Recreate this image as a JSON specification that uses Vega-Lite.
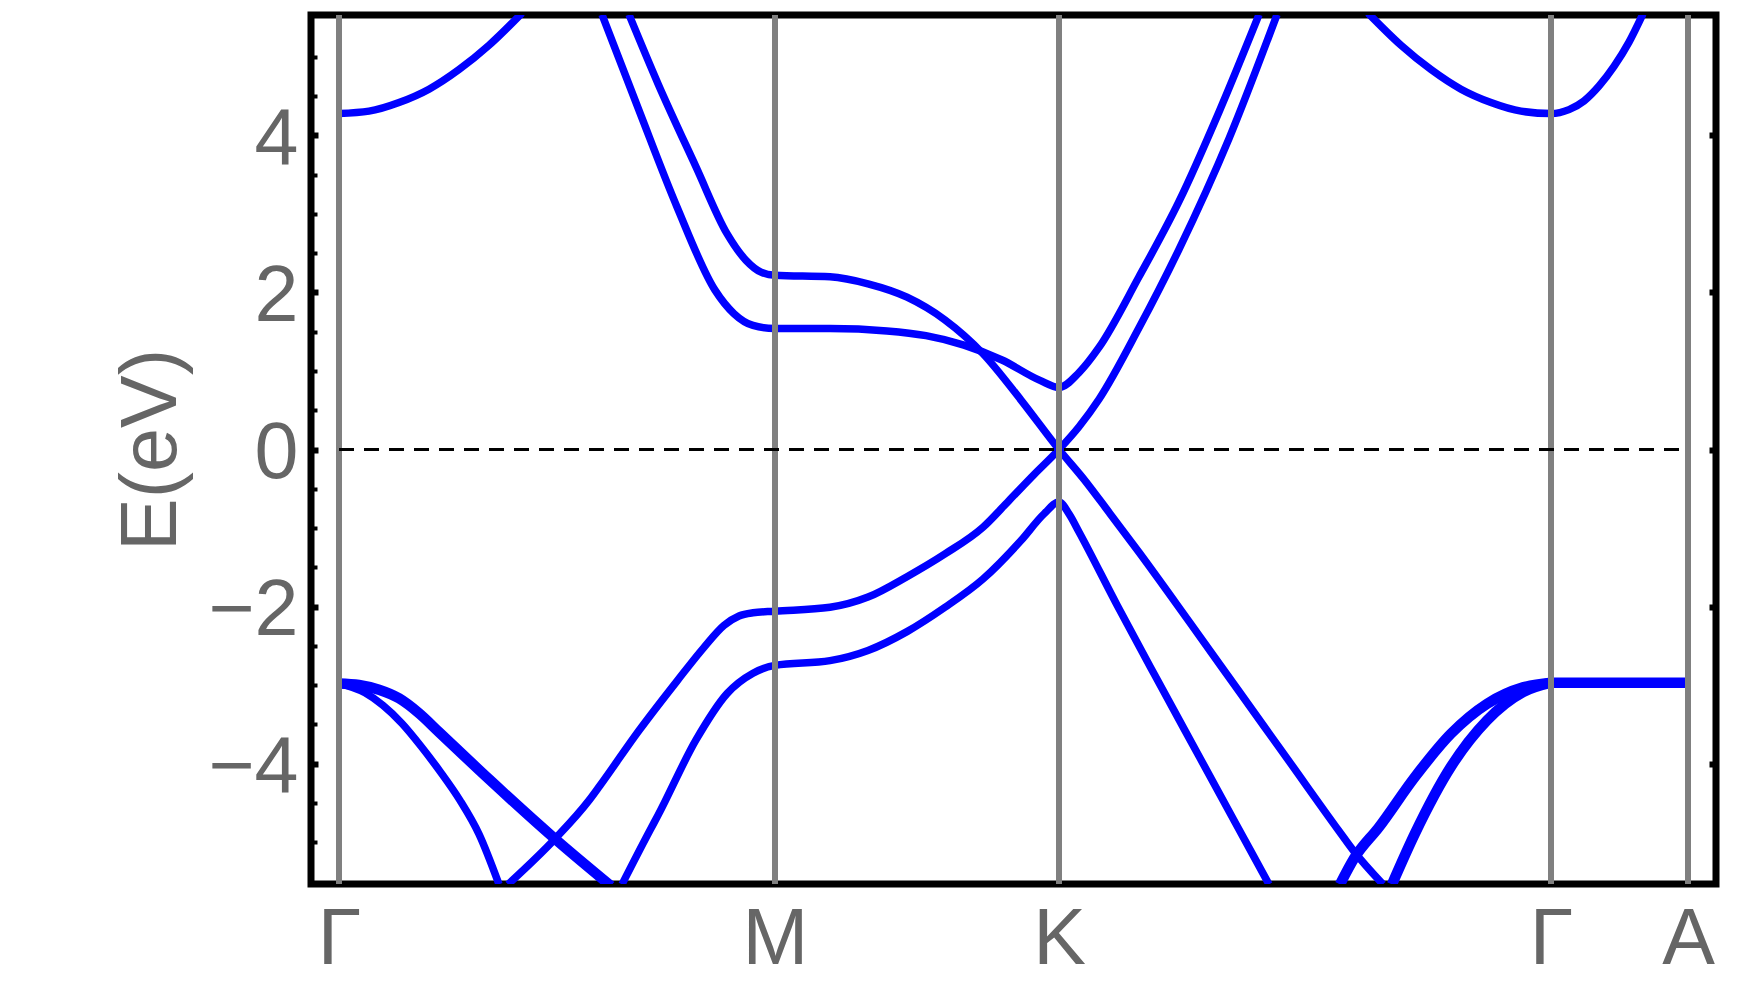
{
  "$schema": "https://vega.github.io/schema/vega-lite/v6.json",
  "width": 1405,
  "height": 869,
  "autosize": {"type": "none"},
  "padding": {"left": 311, "top": 15, "right": 46, "bottom": 115},
  "background": "white",
  "config": {
    "view": {"stroke": "black", "strokeWidth": 7},
    "font": "Liberation Sans"
  },
  "datasets": {
    "thin": [
      {"band": "c1", "k": 0, "E": 4.28}, {"band": "c1", "k": 0.3, "E": 4.31}, {"band": "c1", "k": 0.6, "E": 4.42}, {"band": "c1", "k": 0.9, "E": 4.59}, {"band": "c1", "k": 1.2, "E": 4.84}, {"band": "c1", "k": 1.5, "E": 5.15}, {"band": "c1", "k": 1.83, "E": 5.56},
      {"band": "c2", "k": 2.63, "E": 5.54}, {"band": "c2", "k": 3.0, "E": 4.32}, {"band": "c2", "k": 3.38, "E": 3.09}, {"band": "c2", "k": 3.76, "E": 2.03}, {"band": "c2", "k": 3.95, "E": 1.73}, {"band": "c2", "k": 4.14, "E": 1.58}, {"band": "c2", "k": 4.36, "E": 1.54}, {"band": "c2", "k": 4.91, "E": 1.54}, {"band": "c2", "k": 5.48, "E": 1.51}, {"band": "c2", "k": 5.87, "E": 1.45}, {"band": "c2", "k": 6.25, "E": 1.33}, {"band": "c2", "k": 6.63, "E": 1.14}, {"band": "c2", "k": 7.01, "E": 0.88}, {"band": "c2", "k": 7.2, "E": 0.79}, {"band": "c2", "k": 7.4, "E": 0.98}, {"band": "c2", "k": 7.6, "E": 1.3}, {"band": "c2", "k": 8.0, "E": 2.2}, {"band": "c2", "k": 8.4, "E": 3.16}, {"band": "c2", "k": 8.8, "E": 4.3}, {"band": "c2", "k": 9.2, "E": 5.54},
      {"band": "c3", "k": 2.9, "E": 5.54}, {"band": "c3", "k": 3.19, "E": 4.66}, {"band": "c3", "k": 3.57, "E": 3.6}, {"band": "c3", "k": 3.88, "E": 2.75}, {"band": "c3", "k": 4.07, "E": 2.41}, {"band": "c3", "k": 4.22, "E": 2.26}, {"band": "c3", "k": 4.36, "E": 2.22}, {"band": "c3", "k": 4.91, "E": 2.2}, {"band": "c3", "k": 5.29, "E": 2.11}, {"band": "c3", "k": 5.68, "E": 1.94}, {"band": "c3", "k": 6.06, "E": 1.65}, {"band": "c3", "k": 6.44, "E": 1.22}, {"band": "c3", "k": 6.82, "E": 0.63}, {"band": "c3", "k": 7.2, "E": 0.0}, {"band": "c3", "k": 7.45, "E": -0.38}, {"band": "c3", "k": 7.7, "E": -0.8}, {"band": "c3", "k": 8.0, "E": -1.31}, {"band": "c3", "k": 8.5, "E": -2.19}, {"band": "c3", "k": 9.0, "E": -3.08}, {"band": "c3", "k": 9.5, "E": -3.97}, {"band": "c3", "k": 10.0, "E": -4.86}, {"band": "c3", "k": 10.15, "E": -5.12}, {"band": "c3", "k": 10.44, "E": -5.54},
      {"band": "v1", "k": 1.69, "E": -5.54}, {"band": "v1", "k": 2.16, "E": -4.96}, {"band": "v1", "k": 2.5, "E": -4.47}, {"band": "v1", "k": 2.61, "E": -4.28}, {"band": "v1", "k": 3.0, "E": -3.58}, {"band": "v1", "k": 3.38, "E": -2.95}, {"band": "v1", "k": 3.65, "E": -2.52}, {"band": "v1", "k": 3.85, "E": -2.24}, {"band": "v1", "k": 4.0, "E": -2.12}, {"band": "v1", "k": 4.14, "E": -2.08}, {"band": "v1", "k": 4.36, "E": -2.06}, {"band": "v1", "k": 4.91, "E": -2.01}, {"band": "v1", "k": 5.29, "E": -1.88}, {"band": "v1", "k": 5.68, "E": -1.62}, {"band": "v1", "k": 6.06, "E": -1.33}, {"band": "v1", "k": 6.44, "E": -0.99}, {"band": "v1", "k": 6.7, "E": -0.65}, {"band": "v1", "k": 6.95, "E": -0.32}, {"band": "v1", "k": 7.2, "E": 0.0}, {"band": "v1", "k": 7.4, "E": 0.29}, {"band": "v1", "k": 7.6, "E": 0.64}, {"band": "v1", "k": 8.0, "E": 1.55}, {"band": "v1", "k": 8.4, "E": 2.55}, {"band": "v1", "k": 8.9, "E": 3.96}, {"band": "v1", "k": 9.38, "E": 5.54},
      {"band": "v2", "k": 2.83, "E": -5.54}, {"band": "v2", "k": 3.11, "E": -4.85}, {"band": "v2", "k": 3.19, "E": -4.66}, {"band": "v2", "k": 3.57, "E": -3.7}, {"band": "v2", "k": 3.88, "E": -3.11}, {"band": "v2", "k": 4.14, "E": -2.85}, {"band": "v2", "k": 4.36, "E": -2.75}, {"band": "v2", "k": 4.91, "E": -2.69}, {"band": "v2", "k": 5.29, "E": -2.56}, {"band": "v2", "k": 5.68, "E": -2.32}, {"band": "v2", "k": 6.06, "E": -2.01}, {"band": "v2", "k": 6.44, "E": -1.65}, {"band": "v2", "k": 6.82, "E": -1.16}, {"band": "v2", "k": 7.05, "E": -0.82}, {"band": "v2", "k": 7.2, "E": -0.67}, {"band": "v2", "k": 7.3, "E": -0.82}, {"band": "v2", "k": 7.4, "E": -1.05}, {"band": "v2", "k": 7.78, "E": -1.98}, {"band": "v2", "k": 8.16, "E": -2.88}, {"band": "v2", "k": 8.61, "E": -3.93}, {"band": "v2", "k": 8.97, "E": -4.77}, {"band": "v2", "k": 9.3, "E": -5.54},
      {"band": "v3", "k": 0, "E": -2.98}, {"band": "v3", "k": 0.26, "E": -3.1}, {"band": "v3", "k": 0.44, "E": -3.26}, {"band": "v3", "k": 0.63, "E": -3.49}, {"band": "v3", "k": 0.82, "E": -3.78}, {"band": "v3", "k": 1.01, "E": -4.1}, {"band": "v3", "k": 1.21, "E": -4.47}, {"band": "v3", "k": 1.4, "E": -4.9}, {"band": "v3", "k": 1.6, "E": -5.54},
      {"band": "c4", "k": 10.29, "E": 5.56}, {"band": "c4", "k": 10.62, "E": 5.15}, {"band": "c4", "k": 10.92, "E": 4.84}, {"band": "c4", "k": 11.22, "E": 4.59}, {"band": "c4", "k": 11.52, "E": 4.42}, {"band": "c4", "k": 11.82, "E": 4.31}, {"band": "c4", "k": 12.12, "E": 4.28}, {"band": "c4", "k": 12.3, "E": 4.33}, {"band": "c4", "k": 12.45, "E": 4.44}, {"band": "c4", "k": 12.6, "E": 4.63}, {"band": "c4", "k": 12.75, "E": 4.88}, {"band": "c4", "k": 12.9, "E": 5.19}, {"band": "c4", "k": 13.04, "E": 5.55}
    ],
    "thick": [
      {"band": "t1", "k": 0, "E": -2.98}, {"band": "t1", "k": 0.2, "E": -3.0}, {"band": "t1", "k": 0.4, "E": -3.06}, {"band": "t1", "k": 0.6, "E": -3.17}, {"band": "t1", "k": 0.8, "E": -3.36}, {"band": "t1", "k": 1.0, "E": -3.6}, {"band": "t1", "k": 1.5, "E": -4.2}, {"band": "t1", "k": 2.16, "E": -4.96}, {"band": "t1", "k": 2.72, "E": -5.56},
      {"band": "t2", "k": 10.01, "E": -5.54}, {"band": "t2", "k": 10.15, "E": -5.21}, {"band": "t2", "k": 10.4, "E": -4.81}, {"band": "t2", "k": 10.76, "E": -4.17}, {"band": "t2", "k": 11.12, "E": -3.62}, {"band": "t2", "k": 11.48, "E": -3.24}, {"band": "t2", "k": 11.84, "E": -3.03}, {"band": "t2", "k": 12.12, "E": -2.97},
      {"band": "t3", "k": 10.53, "E": -5.54}, {"band": "t3", "k": 10.76, "E": -4.89}, {"band": "t3", "k": 11.12, "E": -4.04}, {"band": "t3", "k": 11.48, "E": -3.45}, {"band": "t3", "k": 11.84, "E": -3.09}, {"band": "t3", "k": 12.12, "E": -2.97},
      {"band": "t4", "k": 12.12, "E": -2.97}, {"band": "t4", "k": 13.52, "E": -2.97}
    ],
    "kpoints": [
      {"label": "Γ", "k": 0}, {"label": "M", "k": 4.36}, {"label": "K", "k": 7.2}, {"label": "Γ", "k": 12.12}, {"label": "A", "k": 13.49}
    ],
    "fermi": [
      {"k": 0, "k2": 13.49, "E": 0}
    ]
  },
  "resolve": {"scale": {"x": "shared", "y": "shared"}, "axis": {"x": "shared", "y": "independent"}},
  "layer": [
    {
      "data": {"name": "thin"},
      "mark": {"type": "line", "color": "#0000ff", "strokeWidth": 7.5, "interpolate": "monotone", "clip": true, "strokeJoin": "round"},
      "encoding": {
        "x": {
          "field": "k", "type": "quantitative", "title": null,
          "scale": {"domain": [-0.28, 13.77], "nice": false, "zero": false},
          "axis": {
            "orient": "bottom",
            "values": [0, 4.36, 7.2, 12.12, 13.49],
            "labelExpr": "datum.value < 2 ? 'Γ' : datum.value < 6 ? 'M' : datum.value < 10 ? 'K' : datum.value < 13 ? 'Γ' : 'A'",
            "title": null, "ticks": false, "domain": false, "grid": false,
            "labelFont": "Liberation Sans", "labelFontSize": 79, "labelColor": "#666666",
            "labelBaseline": "alphabetic", "labelPadding": 79, "labelFlush": false, "labelOverlap": false
          }
        },
        "y": {
          "field": "E", "type": "quantitative",
          "scale": {"domain": [-5.535, 5.535], "nice": false, "zero": false},
          "axis": {
            "orient": "left",
            "values": [-4, -2, 0, 2, 4],
            "domain": false, "grid": false,
            "ticks": true, "tickSize": -7, "tickWidth": 6, "tickColor": "black",
            "labelFont": "Liberation Sans", "labelFontSize": 79, "labelColor": "#666666",
            "labelBaseline": "alphabetic", "labelOffset": 28, "labelPadding": 20, "labelAlign": "right",
            "labelFlush": false, "labelOverlap": false, "labelBound": false,
            "title": "E(eV)", "titleFont": "Liberation Sans", "titleFontSize": 79, "titleFontWeight": "normal",
            "titleColor": "#666666", "titleAngle": 270, "titleAlign": "center", "titleBaseline": "alphabetic",
            "titleX": -136, "titleY": 434.5
          }
        },
        "detail": {"field": "band"}
      }
    },
    {
      "data": {"name": "thick"},
      "mark": {"type": "line", "color": "#0000ff", "strokeWidth": 10.5, "interpolate": "monotone", "clip": true, "strokeJoin": "round"},
      "encoding": {
        "x": {"field": "k", "type": "quantitative", "title": null, "scale": {"domain": [-0.28, 13.77], "nice": false, "zero": false}},
        "y": {
          "field": "E", "type": "quantitative",
          "scale": {"domain": [-5.535, 5.535], "nice": false, "zero": false},
          "axis": {
            "orient": "right", "values": [-4, -2, 0, 2, 4],
            "labels": false, "domain": false, "grid": false, "title": null,
            "ticks": true, "tickSize": -7, "tickWidth": 6, "tickColor": "black"
          }
        },
        "detail": {"field": "band"}
      }
    },
    {
      "data": {"name": "kpoints"},
      "mark": {"type": "rule", "color": "#808080", "strokeWidth": 6},
      "encoding": {
        "x": {"field": "k", "type": "quantitative", "title": null, "scale": {"domain": [-0.28, 13.77], "nice": false, "zero": false}}
      }
    },
    {
      "data": {"name": "fermi"},
      "mark": {"type": "rule", "color": "black", "strokeWidth": 3, "strokeDash": [15, 10]},
      "encoding": {
        "x": {"field": "k", "type": "quantitative", "title": null, "scale": {"domain": [-0.28, 13.77], "nice": false, "zero": false}},
        "x2": {"field": "k2"},
        "y": {
          "field": "E", "type": "quantitative",
          "scale": {"domain": [-5.535, 5.535], "nice": false, "zero": false},
          "axis": {
            "orient": "left",
            "values": [-5, -4.5, -3.5, -3, -2.5, -1.5, -1, -0.5, 0.5, 1, 1.5, 2.5, 3, 3.5, 4.5, 5],
            "labels": false, "domain": false, "grid": false, "title": null,
            "ticks": true, "tickSize": -6, "tickWidth": 4, "tickColor": "black"
          }
        }
      }
    }
  ]
}
